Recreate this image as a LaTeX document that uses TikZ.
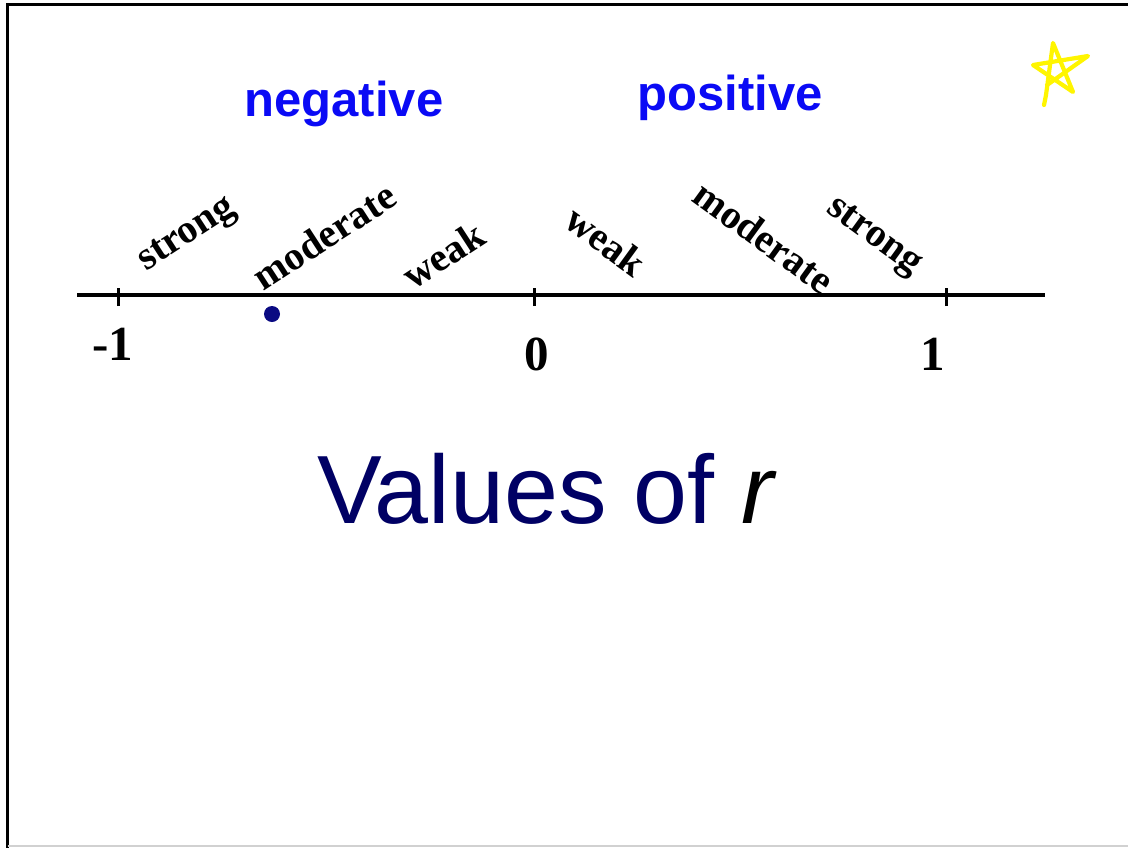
\documentclass[tikz,border=0pt]{standalone}
\usepackage{fontspec}
\setmainfont{Liberation Serif}
\setsansfont{Liberation Sans}
\definecolor{signblue}{RGB}{10,10,245}
\definecolor{navytext}{RGB}{0,0,100}
\definecolor{dotblue}{RGB}{10,10,130}
\definecolor{staryellow}{RGB}{255,245,0}
\tikzset{
  rlabel/.style={font=\fontsize{40}{40}\selectfont\bfseries, inner sep=0pt, anchor=center},
  numlabel/.style={font=\fontsize{49}{49}\selectfont\bfseries, inner sep=0pt, anchor=center},
  signlabel/.style={font=\sffamily\fontsize{49}{49}\selectfont\bfseries, text=signblue, inner sep=0pt, anchor=center},
  axisline/.style={line width=3.2pt, black},
  tickline/.style={line width=3pt, black},
  frameline/.style={line width=2.6pt, black},
}
\begin{document}
\begin{tikzpicture}[x=1pt,y=-1pt]
\useasboundingbox (0,0) rectangle (1128,847);
% frame
\draw[frameline] (7.5,1128) -- (7.5,4.7) -- (1130,4.7);
\draw[line width=1.5pt, black!18] (7.5,846) -- (1128,846);
% star
\draw[staryellow, line width=4.2pt, line cap=round, line join=round]
  (1044,105) -- (1046,95) -- (1053,43) -- (1073,92) -- (1033,65) -- (1088,56) -- (1047,85);
% sign labels
\node[signlabel] (neg) at (344,104) {negative};
\node[signlabel] (pos) at (730,98) {positive};
% axis
\coordinate (aL) at (77,295);
\coordinate (aR) at (1045,295);
\draw[axisline] (aL) -- (aR);
\coordinate (tm) at (118,295);
\coordinate (tz) at (534,295);
\coordinate (tp) at (946,295);
\foreach \t in {tm,tz,tp} \draw[tickline] ([yshift=-11pt]\t) -- ([yshift=7pt]\t);
% dot
\fill[dotblue] (272,314) circle (8);
% numbers
\node[numlabel] (nm) at (113,344) {-1};
\node[numlabel] (nz) at (537,354) {0};
\node[numlabel] (np) at (933,354) {1};
% rotated labels
\node[rlabel, rotate=33] (lstrong) at (188,236) {strong};
\node[rlabel, rotate=33] (lmod) at (324,236) {moderate};
\node[rlabel, rotate=33] (lweak) at (443,255) {weak};
\node[rlabel, rotate=-36] (rweak) at (606,241) {weak};
\node[rlabel, rotate=-36] (rmod) at (764,237) {moderate};
\node[rlabel, rotate=-36] (rstrong) at (873,238) {strong};
% title
\node[font=\sffamily\fontsize{97}{97}\selectfont, text=navytext, inner sep=0pt, anchor=base west] (title) at (317,523) {Values of \textcolor{black}{\textit{r}}};
\end{tikzpicture}
\end{document}
